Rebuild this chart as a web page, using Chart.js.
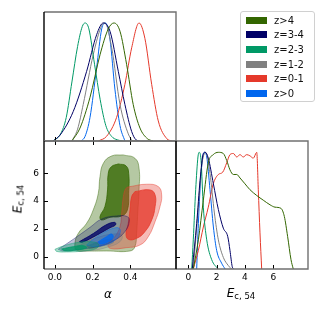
<!DOCTYPE html>
<html>
<head>
<meta charset="utf-8">
<title>corner plot</title>
<script src="https://cdn.jsdelivr.net/npm/chart.js"></script>
<style>
  body { margin: 0; width: 320px; height: 320px; position: relative; background: #fff; overflow: hidden;
         font-family: "DejaVu Sans", sans-serif; }
  canvas { position: absolute; left: 0; top: 0; }
  .axlabel { position: absolute; transform: translate(-50%, -50%); white-space: nowrap; font-size: 12px; color: #000; }
  .axlabel i { font-style: italic; }
  .axlabel sub { font-size: 8.5px; vertical-align: -2px; }
  #ylab { transform: translate(-50%, -50%) rotate(-90deg); }
  #legend { position: absolute; left: 240px; top: 11px; width: 75px; height: 91px; box-sizing: border-box;
            border: 1px solid #d0d0d0; border-radius: 3px; padding-top: 1px; }
  .row { height: 14.66px; display: flex; align-items: center; font-size: 10px; color: #111; }
  .sw { width: 21px; height: 7px; margin: 0 7px 0 5px; }
</style>
</head>
<body>
<canvas id="topPanel" width="320" height="320"></canvas>
<canvas id="jointPanel" width="320" height="320"></canvas>
<canvas id="sidePanel" width="320" height="320"></canvas>
<div id="legend"></div>
<div class="axlabel" style="left:108px; top:294px;"><i>α</i></div>
<div class="axlabel" style="left:241px; top:293px;"><i>E</i><sub>c, 54</sub></div>
<div class="axlabel" id="ylab" style="left:18px; top:199px;"><i>E</i><sub>c, 54</sub></div>
<script>
// series names, same order everywhere
const labels = ['z>4', 'z=3-4', 'z=2-3', 'z=1-2', 'z=0-1', 'z>0'];
const colors = ['51,102,0', '0,0,102', '0,153,102', '128,128,128', '229,57,43', '0,102,238'];

// tick labels
const alphaTicks = [0, 0.2, 0.4];
const eTicks = [0, 2, 4, 6];

// 1D marginals of alpha: [alpha, normalised density]
const alphaZ4 = [[0.09,0],[0.133,0.11],[0.186,0.37],[0.239,0.73],[0.283,0.95],[0.313,1],[0.345,0.93],[0.38,0.65],[0.415,0.31],[0.451,0.11],[0.49,0.02],[0.52,0]];
const alphaZ34 = [[-0.01,0],[0.027,0.05],[0.097,0.25],[0.168,0.59],[0.221,0.9],[0.256,1],[0.292,0.93],[0.336,0.59],[0.371,0.31],[0.407,0.08],[0.43,0.01],[0.45,0]];
const alphaZ23 = [[-0.01,0],[0.03,0.06],[0.06,0.2],[0.09,0.5],[0.12,0.8],[0.145,0.97],[0.16,1],[0.18,0.95],[0.21,0.65],[0.24,0.35],[0.27,0.13],[0.3,0.04],[0.33,0.01],[0.36,0]];
const alphaZ12 = [[0.09,0],[0.12,0.1],[0.15,0.31],[0.203,0.73],[0.248,0.98],[0.265,1],[0.301,0.79],[0.345,0.31],[0.389,0.06],[0.41,0]];
const alphaZ01 = [[0.23,0],[0.274,0.04],[0.327,0.2],[0.371,0.48],[0.407,0.79],[0.446,1],[0.477,0.87],[0.513,0.48],[0.548,0.17],[0.593,0.02],[0.62,0]];
const alphaZ0 = [[0.14,0],[0.16,0.04],[0.186,0.2],[0.221,0.62],[0.248,0.95],[0.268,1],[0.292,0.86],[0.318,0.44],[0.345,0.13],[0.371,0]];

// 1D marginals of E_c,54
const ecZ4 = [[0.35,0],[0.71,0.25],[1.06,0.59],[1.41,0.91],[1.76,0.98],[2.12,1],[2.47,0.99],[2.71,0.93],[2.94,0.85],[3.18,0.81],[3.42,0.81],[3.65,0.78],[4.0,0.73],[4.35,0.68],[4.83,0.63],[5.29,0.59],[5.77,0.55],[6.12,0.53],[6.54,0.52],[6.78,0.45],[7.01,0.28],[7.25,0.08],[7.41,0]];
const ecZ34 = [[0.28,0],[0.59,0.39],[0.83,0.76],[1.06,0.99],[1.18,1],[1.41,0.95],[1.77,0.73],[2.12,0.51],[2.47,0.35],[2.78,0.28],[2.94,0.16],[3.1,0.02],[3.2,0]];
const ecZ23 = [[0.24,0],[0.35,0.25],[0.52,0.68],[0.68,0.96],[0.76,1],[0.9,0.93],[1.06,0.53],[1.3,0.25],[1.65,0.08],[2.1,0]];
const ecZ12 = [[0.35,0],[0.71,0.53],[0.94,0.88],[1.23,1],[1.53,0.82],[1.84,0.48],[2.12,0.25],[2.47,0.1],[2.82,0.03],[3.05,0]];
const ecZ01 = [[0.35,0],[0.71,0.16],[1.06,0.36],[1.41,0.53],[1.76,0.73],[2.12,0.81],[2.43,0.83],[2.71,0.91],[2.94,0.98],[3.18,0.99],[3.42,0.96],[3.65,0.98],[3.88,0.96],[4.12,0.98],[4.35,0.97],[4.59,0.95],[4.83,1],[4.94,0.68],[5.06,0.31],[5.18,0]];
const ecZ0 = [[0.59,0],[0.71,0.39],[0.9,0.82],[1.13,1],[1.3,0.96],[1.53,0.68],[1.77,0.36],[2.0,0.16],[2.35,0.05],[2.6,0]];

// 2D credible regions (alpha, E_c,54): 95% and 68% outlines
const jointZ4_95 = [[0.362,7.32],[0.424,7.08],[0.446,6.36],[0.446,4.8],[0.439,3.12],[0.433,1.68],[0.424,0.72],[0.398,0.41],[0.274,0.41],[0.168,0.41],[0.115,0.48],[0.106,0.96],[0.124,1.68],[0.168,2.4],[0.203,3.36],[0.23,4.56],[0.239,5.76],[0.257,6.72],[0.3,7.24]];
const jointZ4_68 = [[0.336,6.67],[0.377,6.53],[0.391,6.0],[0.391,4.56],[0.384,3.36],[0.354,2.93],[0.292,2.83],[0.248,2.64],[0.239,2.88],[0.265,3.6],[0.279,4.8],[0.283,6.0],[0.3,6.48]];
const jointZ34_95 = [[0.018,0.53],[0.097,1.25],[0.186,2.11],[0.248,2.71],[0.327,2.93],[0.384,2.88],[0.394,2.52],[0.371,1.8],[0.318,1.2],[0.239,0.77],[0.133,0.53],[0.044,0.41]];
const jointZ34_68 = [[0.13,1.08],[0.205,1.68],[0.27,2.28],[0.316,2.47],[0.322,2.3],[0.288,2.05],[0.222,1.55],[0.145,1.04]];
const jointZ23_95 = [[0.0,0.53],[0.044,0.77],[0.115,1.01],[0.186,1.08],[0.23,0.91],[0.221,0.6],[0.15,0.41],[0.062,0.34],[0.009,0.38]];
const jointZ23_68 = [[0.035,0.55],[0.097,0.72],[0.15,0.79],[0.168,0.65],[0.115,0.48],[0.053,0.43]];
const jointZ12_95 = [[0.106,0.6],[0.168,1.08],[0.239,1.44],[0.309,1.63],[0.354,1.56],[0.345,1.08],[0.274,0.67],[0.186,0.43],[0.115,0.41]];
const jointZ12_68 = [[0.168,0.77],[0.239,1.08],[0.3,1.25],[0.309,1.01],[0.248,0.77],[0.186,0.6]];
const jointZ01_95 = [[0.398,5.04],[0.486,5.21],[0.548,5.04],[0.566,4.44],[0.557,3.6],[0.531,2.52],[0.495,1.44],[0.451,0.84],[0.38,0.65],[0.292,0.6],[0.283,0.96],[0.318,1.44],[0.345,2.16],[0.354,3.12],[0.363,4.32],[0.377,4.92]];
const jointZ01_68 = [[0.424,4.68],[0.504,4.8],[0.531,4.44],[0.531,3.6],[0.513,2.64],[0.477,1.8],[0.433,1.32],[0.389,1.25],[0.377,1.68],[0.389,2.4],[0.398,3.36],[0.407,4.32]];
const jointZ0_95 = [[0.168,0.84],[0.203,1.25],[0.257,1.73],[0.309,2.04],[0.341,2.04],[0.345,1.68],[0.324,1.25],[0.274,0.89],[0.212,0.72]];
const jointZ0_68 = [[0.23,1.08],[0.274,1.44],[0.3,1.63],[0.309,1.39],[0.283,1.08],[0.239,0.91]];

const alphaCurves = [alphaZ4, alphaZ34, alphaZ23, alphaZ12, alphaZ01, alphaZ0];
const ecCurves = [ecZ4, ecZ34, ecZ23, ecZ12, ecZ01, ecZ0];
const joint95 = [jointZ4_95, jointZ34_95, jointZ23_95, jointZ12_95, jointZ01_95, jointZ0_95];
const joint68 = [jointZ4_68, jointZ34_68, jointZ23_68, jointZ12_68, jointZ01_68, jointZ0_68];
const fill95 = [0.36, 0.24, 0.34, 0.32, 0.34, 0.34];

// legend
const legend = document.getElementById('legend');
labels.forEach((lab, i) => {
  const row = document.createElement('div');
  row.className = 'row';
  row.innerHTML = `<span class="sw" style="background:rgb(${colors[i]})"></span><span>${lab}</span>`;
  legend.appendChild(row);
});

const toXY = pts => pts.map(([x, y]) => ({ x, y }));

// frame + inward ticks
const framePlugin = {
  id: 'frame',
  afterDraw(chart, args, opts) {
    const { ctx, chartArea: a } = chart;
    ctx.save();
    ctx.strokeStyle = '#000';
    ctx.lineWidth = 1;
    (opts.ticks || []).forEach(([id, side]) => {
      const s = chart.scales[id];
      s.ticks.forEach(t => {
        const p = Math.round(s.getPixelForValue(t.value)) + 0.5;
        ctx.beginPath();
        if (side === 'bottom') { ctx.moveTo(p, a.bottom); ctx.lineTo(p, a.bottom - 4); }
        if (side === 'top') { ctx.moveTo(p, a.top); ctx.lineTo(p, a.top + 4); }
        if (side === 'left') { ctx.moveTo(a.left, p); ctx.lineTo(a.left + 4, p); }
        ctx.stroke();
      });
    });
    ctx.lineWidth = 1.4;
    ctx.strokeStyle = '#707070';
    ctx.beginPath();
    ctx.moveTo(a.left, a.top); ctx.lineTo(a.right, a.top); ctx.lineTo(a.right, a.bottom); ctx.lineTo(a.left, a.bottom);
    ctx.stroke();
    ctx.strokeStyle = '#000';
    ctx.beginPath();
    ctx.moveTo(a.left, a.top); ctx.lineTo(a.left, a.bottom);
    ctx.stroke();
    ctx.restore();
  }
};

const tickFont = { family: 'DejaVu Sans', size: 9 };

// size = fixed axis box (labels are clipped to it)
function axis(min, max, vals, fmt, size, horizontal) {
  return {
    type: 'linear', min, max,
    position: horizontal ? 'bottom' : 'left',
    afterBuildTicks: s => { s.ticks = vals.map(v => ({ value: v })); },
    afterFit: s => { if (horizontal) s.height = size; else s.width = size; },
    grid: { display: false, drawTicks: false },
    border: { display: false },
    ticks: { display: size > 0, font: tickFont, color: '#000', padding: horizontal ? 3 : 5,
             maxRotation: 0, autoSkip: false, callback: v => fmt(v) }
  };
}

const fmtA = v => v.toFixed(1);
const fmtE = v => String(v);

function baseOptions(pad, scales, ticks) {
  return {
    responsive: false, animation: false, devicePixelRatio: 1,
    layout: { padding: pad },
    plugins: { legend: { display: false }, tooltip: { enabled: false }, frame: { ticks } },
    scales
  };
}

function curveSets(curves) {
  return curves.map((pts, i) => ({
    label: labels[i], data: toXY(pts), showLine: true, pointRadius: 0, fill: false,
    borderColor: `rgb(${colors[i]})`, borderWidth: 1, cubicInterpolationMode: 'monotone'
  }));
}

// top: alpha marginal
new Chart(document.getElementById('topPanel'), {
  type: 'scatter',
  data: { datasets: curveSets(alphaCurves) },
  options: baseOptions({ left: 44, top: 12, right: 144, bottom: 179 }, {
    x: axis(-0.058, 0.642, alphaTicks, fmtA, 0, true),
    y: axis(0, 1.093, [], fmtE, 0, false)
  }, [['x', 'bottom']]),
  plugins: [framePlugin]
});

// joint panel
const layers = [];
[0, 4, 3, 1, 5, 2].forEach(i => {
  [[joint95[i], fill95[i]], [joint68[i], 0.78]].forEach(([pts, a]) => {
    layers.push({
      label: labels[i], data: toXY(pts.concat([pts[0]])), showLine: true, pointRadius: 0,
      fill: 'shape', tension: 0.45,
      backgroundColor: `rgba(${colors[i]},${a})`, borderColor: `rgba(${colors[i]},${Math.min(a + 0.2, 1)})`, borderWidth: 0.8
    });
  });
});
layers.reverse(); // first dataset is drawn on top

new Chart(document.getElementById('jointPanel'), {
  type: 'scatter',
  data: { datasets: layers },
  options: baseOptions({ left: 24, top: 141, right: 144, bottom: 31 }, {
    x: axis(-0.058, 0.642, alphaTicks, fmtA, 20, true),
    y: axis(-0.885, 8.32, eTicks, fmtE, 20, false)
  }, [['x', 'bottom'], ['x', 'top'], ['y', 'left']]),
  plugins: [framePlugin]
});

// side: E_c,54 marginal (yE only carries the shared E tick marks on its left edge)
new Chart(document.getElementById('sidePanel'), {
  type: 'scatter',
  data: { datasets: curveSets(ecCurves) },
  options: baseOptions({ left: 176, top: 141, right: 12, bottom: 31 }, {
    x: axis(-0.87, 8.45, eTicks, fmtE, 20, true),
    y: axis(0, 1.097, [], fmtE, 0, false),
    yE: axis(-0.885, 8.32, eTicks, fmtE, 0, false)
  }, [['x', 'bottom'], ['yE', 'left']]),
  plugins: [framePlugin]
});
</script>
</body>
</html>
